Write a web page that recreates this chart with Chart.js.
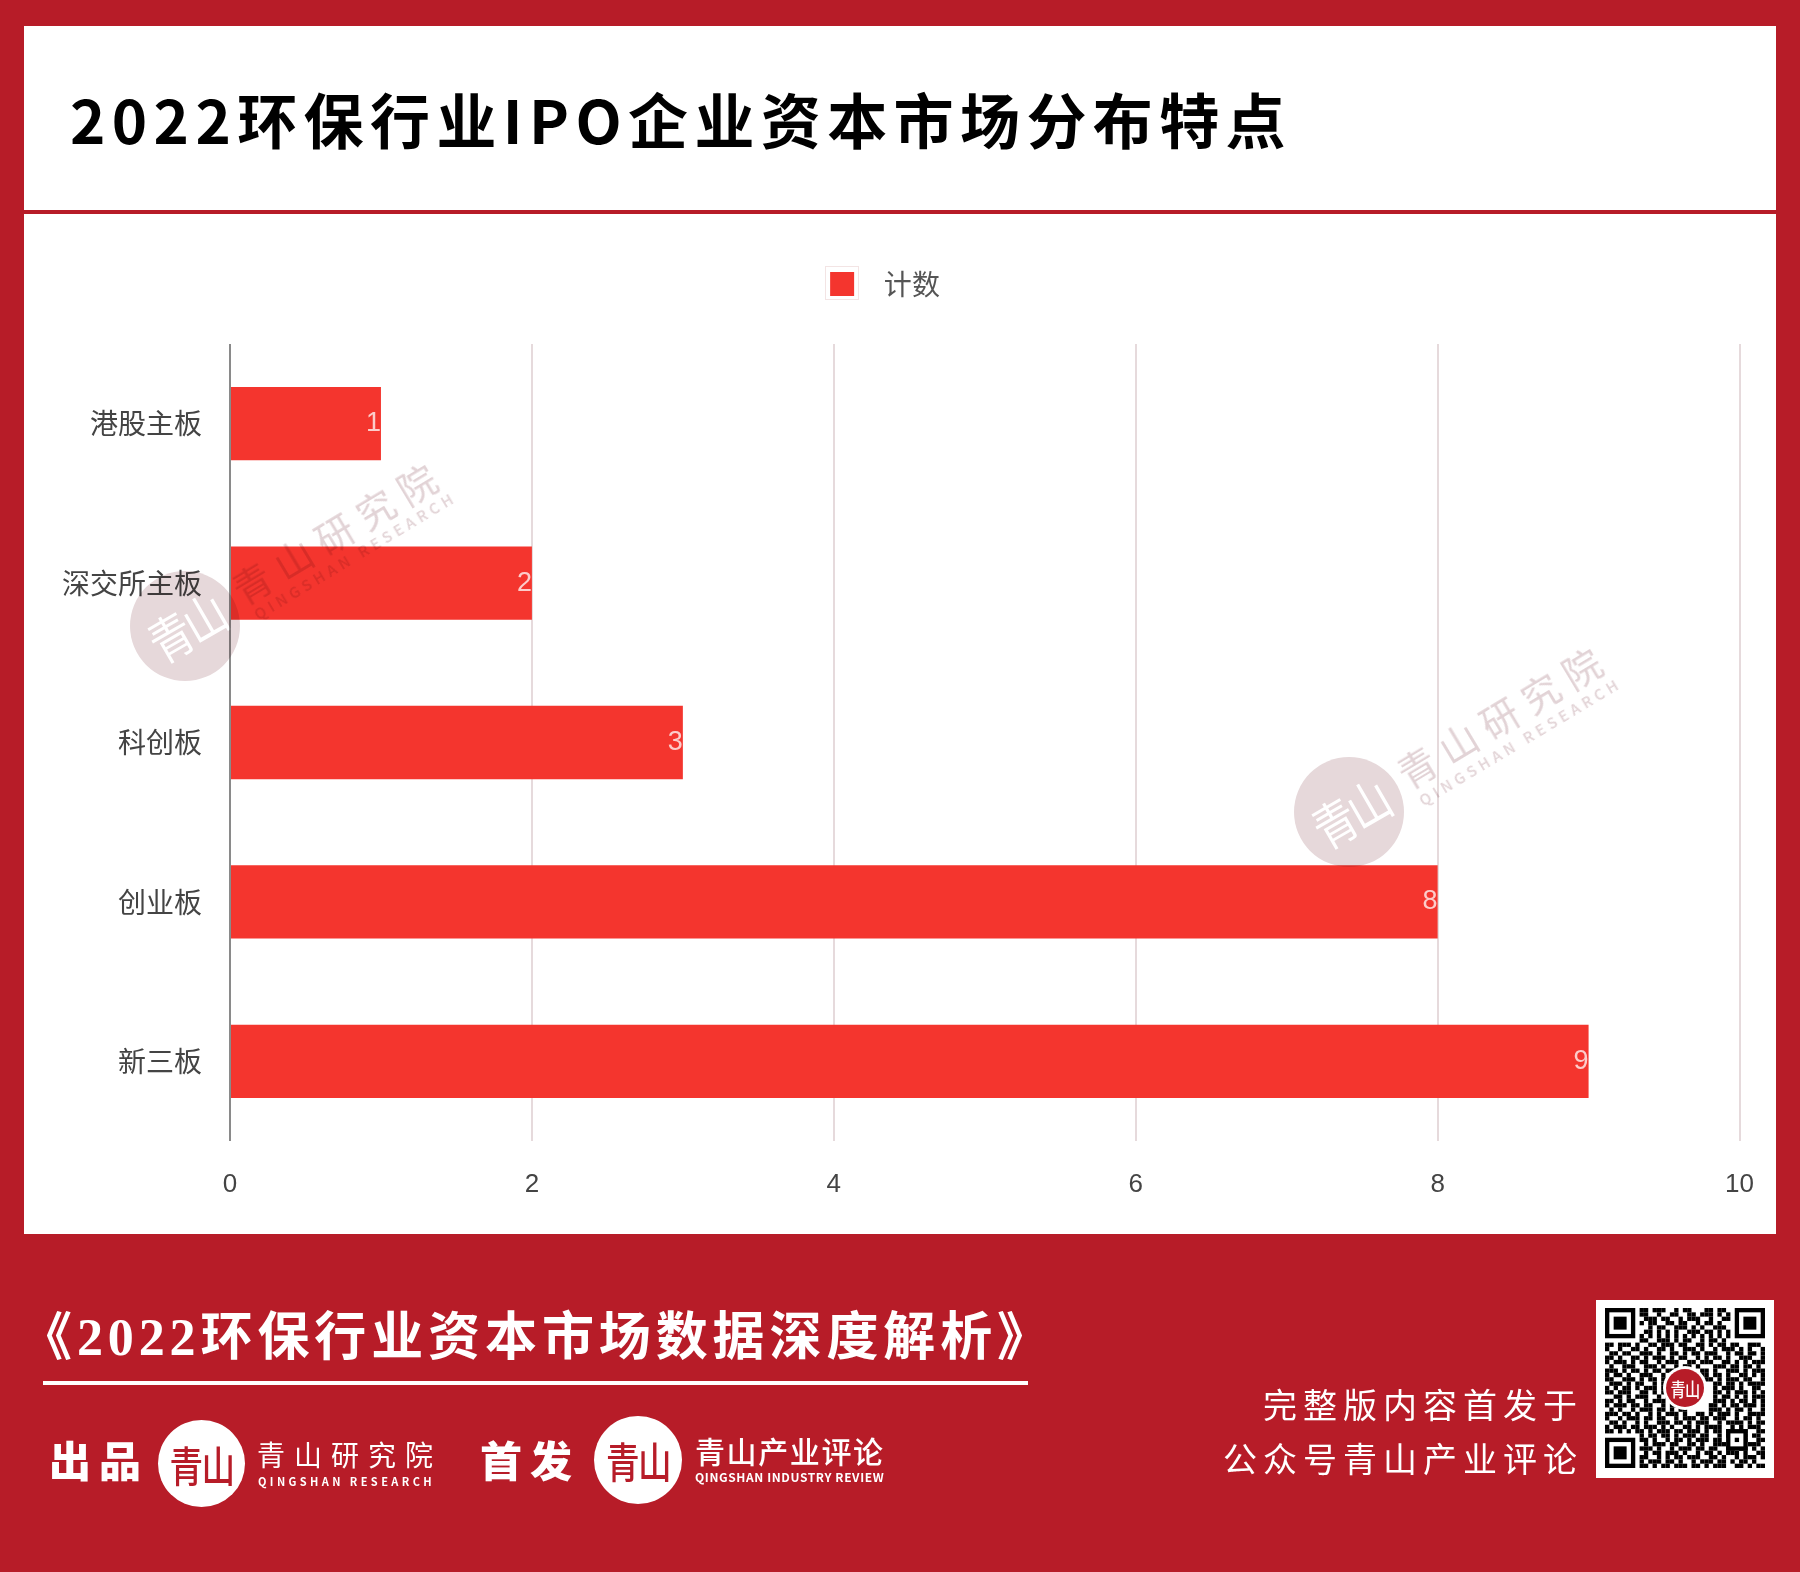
<!DOCTYPE html>
<html lang="zh-CN">
<head>
<meta charset="utf-8">
<title>2022环保行业IPO企业资本市场分布特点</title>
<script src="https://cdn.jsdelivr.net/npm/chart.js@4"></script>
<style>
html, body { margin: 0; padding: 0; }
body { position: relative; width: 1800px; height: 1572px; overflow: hidden; background: #b71c28; font-family: "Noto Sans CJK SC", "Noto Sans", sans-serif; }
.panel { position: absolute; background: #fff; }
.t { position: absolute; white-space: nowrap; line-height: 1; transform: translateY(-50%); color: #fff; }
.rule { position: absolute; }
.logo { position: absolute; border-radius: 50%; background: #fff; color: #b71c28; text-align: center; font-weight: 500; }
.logo span { position: absolute; left: 0; right: 0; top: 50%; line-height: 1; transform: translateY(-50%) scaleX(.8); letter-spacing: -2px; }
#grafikon { position: absolute; left: 0; top: 0; }
#qr-kutija { position: absolute; left: 1596px; top: 1300px; width: 178px; height: 178px; background: #fff; }
#qr { position: absolute; left: 9px; top: 8px; }
.wm { position: absolute; mix-blend-mode: multiply; color: #e2d3d6; }
.wm-krug { border-radius: 50%; background: #e6d8da; width: 110px; height: 110px; }
.wm-krug span { position: absolute; left: 0; right: 0; top: 50%; text-align: center; line-height: 1; color: #fff; font-size: 50px; letter-spacing: -4px; transform: translateY(-50%) rotate(-30deg) scaleX(.85); }
.wm-tekst { white-space: nowrap; line-height: 1; transform: translate(-50%, -50%) rotate(-31deg); }
</style>
</head>
<body>

<div class="panel" style="left:24px;top:26px;width:1752px;height:1208px"></div>
<div class="rule" style="left:24px;top:210px;width:1752px;height:4px;background:#b71c28"></div>
<div class="t" style="left:70px;top:118px;font-size:60px;font-weight:700;letter-spacing:6.4px;color:#000">2022环保行业IPO企业资本市场分布特点</div>
<div class="rule" style="left:825px;top:266px;width:34px;height:34px;border:1px solid #f3e4e4;box-sizing:border-box"></div>

<canvas id="grafikon" width="1782" height="1572"></canvas>

<div class="wm wm-krug" style="left:130px;top:571px"><span>青山</span></div>
<div class="wm wm-tekst" style="left:338px;top:530px;font-size:38px;letter-spacing:10px">青山研究院</div>
<div class="wm wm-tekst" style="left:355px;top:555px;font-size:15px;font-weight:500;letter-spacing:4.4px">QINGSHAN RESEARCH</div>
<div class="wm wm-krug" style="left:1294px;top:757px"><span>青山</span></div>
<div class="wm wm-tekst" style="left:1503px;top:714px;font-size:38px;letter-spacing:10px">青山研究院</div>
<div class="wm wm-tekst" style="left:1520px;top:741px;font-size:15px;font-weight:500;letter-spacing:4.4px">QINGSHAN RESEARCH</div>

<div class="t" style="left:20px;top:1338px;font-size:52px;font-weight:700;letter-spacing:4.9px;font-family:'Liberation Serif','Noto Sans CJK SC',serif">《2022环保行业资本市场数据深度解析》</div>
<div class="rule" style="left:43px;top:1381px;width:985px;height:4px;background:#fff"></div>

<div class="t" style="left:49px;top:1459px;font-size:42px;font-weight:900;letter-spacing:8px">出品</div>
<div class="logo" style="left:158px;top:1420px;width:87px;height:87px;font-size:42px"><span>青山</span></div>
<div class="t" style="left:257px;top:1454px;font-size:28px;letter-spacing:9px">青山研究院</div>
<div class="t" style="left:258px;top:1481px;font-size:11px;font-weight:700;letter-spacing:3.4px">QINGSHAN RESEARCH</div>

<div class="t" style="left:480px;top:1459px;font-size:42px;font-weight:900;letter-spacing:8px">首发</div>
<div class="logo" style="left:594px;top:1416px;width:88px;height:88px;font-size:42px"><span>青山</span></div>
<div class="t" style="left:695px;top:1450px;font-size:30px;font-weight:500;letter-spacing:1.6px">青山产业评论</div>
<div class="t" style="left:695px;top:1477px;font-size:12px;font-weight:700;letter-spacing:.6px">QINGSHAN INDUSTRY REVIEW</div>

<div class="t" style="left:1263px;top:1404px;font-size:34px;letter-spacing:6px">完整版内容首发于</div>
<div class="t" style="left:1223px;top:1458px;font-size:34px;letter-spacing:6px">公众号青山产业评论</div>

<div id="qr-kutija">
    <canvas id="qr" width="160" height="160"></canvas>
    <div class="logo" style="left:67px;top:66px;width:44px;height:44px;background:#fff"></div>
    <div class="logo" style="left:70px;top:69px;width:38px;height:38px;background:#b71c28;color:#fff;font-size:19px"><span style="letter-spacing:-1px">青山</span></div>
</div>

<script>
const kategorije = ['港股主板', '深交所主板', '科创板', '创业板', '新三板'];
const vrijednosti = [1, 2, 3, 8, 9];
const nazivSerije = '计数';

const BOJA_STUPCA = '#f4352e';

// Oznake vrijednosti na kraju stupca
const oznakeStupaca = {
    id: 'oznakeStupaca',
    afterDatasetsDraw(chart) {
        const ctx = chart.ctx;
        ctx.save();
        ctx.font = '27px "Liberation Sans", sans-serif';
        ctx.fillStyle = 'rgba(255, 255, 255, 0.75)';
        ctx.textAlign = 'right';
        ctx.textBaseline = 'middle';
        chart.getDatasetMeta(0).data.forEach(function(stupac, i) {
            ctx.fillText(vrijednosti[i], stupac.x, stupac.y);
        });
        ctx.restore();
    }
};

// Legenda je niska, a u referenci je veci razmak do grafa
const razmakLegende = {
    id: 'razmakLegende',
    beforeLayout(chart) {
        const legenda = chart.legend;
        if (legenda && !legenda.prosirena) {
            const fit = legenda.fit;
            legenda.fit = function() {
                fit.call(legenda);
                legenda.height += 36;
            };
            legenda.prosirena = true;
        }
    }
};

new Chart(document.getElementById('grafikon'), {
    type: 'bar',
    plugins: [oznakeStupaca, razmakLegende],
    data: {
        labels: kategorije,
        datasets: [{
            label: nazivSerije,
            data: vrijednosti,
            backgroundColor: BOJA_STUPCA,
            barPercentage: 0.46,
            categoryPercentage: 1
        }]
    },
    options: {
        indexAxis: 'y',
        responsive: false,
        animation: false,
        layout: {
            padding: { top: 240, right: 28, left: 16, bottom: 0 }
        },
        plugins: {
            tooltip: { enabled: false },
            legend: {
                position: 'top',
                onClick: null,
                labels: {
                    boxWidth: 24,
                    boxHeight: 24,
                    padding: 30,
                    color: '#555',
                    font: { size: 28, family: '"Noto Sans CJK SC", sans-serif' },
                    generateLabels: function(chart) {
                        return Chart.defaults.plugins.legend.labels.generateLabels(chart).map(function(l) {
                            l.text = '\u2002\u200a' + l.text;
                            l.lineWidth = 0;
                            return l;
                        });
                    }
                }
            }
        },
        scales: {
            x: {
                min: 0,
                max: 10,
                ticks: {
                    stepSize: 2,
                    padding: 28,
                    color: '#444',
                    font: { size: 26, family: '"Liberation Sans", sans-serif' }
                },
                grid: {
                    lineWidth: 2,
                    drawTicks: false,
                    color: function(c) {
                        return c.tick.value === 0 ? '#8a8a8a' : '#e6dadc';
                    }
                },
                border: { display: false },
                afterFit: function(scale) {
                    scale.height = 431;
                }
            },
            y: {
                ticks: {
                    padding: 20,
                    color: '#444',
                    font: { size: 28, family: '"Noto Sans CJK SC", sans-serif' }
                },
                grid: { display: false },
                border: { display: false },
                afterFit: function(scale) {
                    scale.width = 214;
                }
            }
        }
    }
});

// QR kod: redovi prepisani s referentne slike, # je crni modul
const qrRedovi = [
    '........##.###..#.##...##.##.........',
    '........##..#..##..##.###.#.#........',
    '.........###.##..#.###..#..##........',
    '........#.##..##.##..#.##.#..........',
    '..........#.##..###.#.#..###.........',
    '.........##.#.#.#..###.##.#.#........',
    '........#.#.#.#.#.#.#.#.#.#.#........',
    '........##..###.#.##..#.##.#.........',
    '##.###.#..##.###.##..##.#.##.##..###.',
    '#..#..##.#..##.#..###.#..#.###.#.#..#',
    '.##.##..###.#..##.#.##.###..#.##.##.#',
    '##.#..##.#.###.#.##..#.#.##.#..###..#',
    '#.###.#.##..#.###..##.###..##.#.#.###',
    '.#..###..###.#..#.##.#...###.##.##.#.',
    '###.#.##.#.##.##.###..##.#..###.#.###',
    '#.##.#..###..#.##..#.###.##.#..##.#.#',
    '##..###.#.##.###.#.##..##.#.###.##..#',
    '.###.#.##..#.#..##.......##.##.#.####',
    '#.#.##.#.###.##.#........#.###.#..##.',
    '##.###..##.#.###.........##.#.###.#.#',
    '..##.#.###..#.#..........#.##.#.#.###',
    '##.#.##..#.###.#.........###.#.##.#.#',
    '#.###.##.##..#.##.......##.#.##.###.#',
    '.#.#..#.###.##.#.##.....###.#.##.#..#',
    '###.##.#..#.#.###.#..##.#.###.#..####',
    '#..#.###.##.##..#.###.##.###..#.##.#.',
    '.##.#..#.#..###.##.#.###..#.####.#.##',
    '#.###.##.###.#.#..##.#.####..#.#.###.',
    '##.#.#.##.#.###.##.###.#.##.##.##..##',
    '........#.##.##.#.###.##..#.###.#.##.',
    '........##.#..#.##.#.###.##..#.##..##',
    '.........#.###.##..##.#..###.#.#.###.',
    '........###.#..#.###.##.##..##.##.#.#',
    '.........#.##.###.#..#.##.#.###.#..##',
    '........##..#.#.##.###..##.#..#.###.#',
    '........#.###.##.#..#.###.##.#.##.#..',
    '........##.#.##.###.##.#.###..##.#.##'
];

function nacrtajQr() {
    const ctx = document.getElementById('qr').getContext('2d');
    const m = 160 / 37;

    qrRedovi.forEach(function(red, y) {
        for (let x = 0; x < red.length; x++) {
            if (red[x] === '#') {
                ctx.fillStyle = '#000';
                ctx.fillRect(x * m, y * m, m, m);
            }
        }
    });

    function kvadrat(x, y, n) {
        ctx.fillStyle = '#000';
        ctx.fillRect(x * m, y * m, n * m, n * m);
        ctx.fillStyle = '#fff';
        ctx.fillRect((x + 1) * m, (y + 1) * m, (n - 2) * m, (n - 2) * m);
        ctx.fillStyle = '#000';
        ctx.fillRect((x + 2) * m, (y + 2) * m, (n - 4) * m, (n - 4) * m);
    }
    kvadrat(0, 0, 7);
    kvadrat(30, 0, 7);
    kvadrat(0, 30, 7);
    kvadrat(28, 28, 5);
}
nacrtajQr();
</script>
</body>
</html>
